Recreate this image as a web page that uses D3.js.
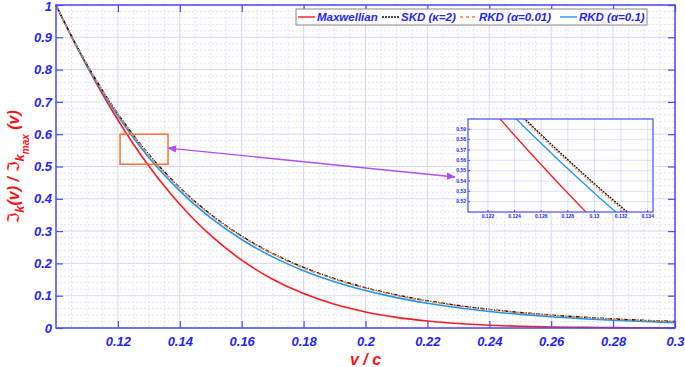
<!DOCTYPE html>
<html><head><meta charset="utf-8">
<script src="https://cdn.jsdelivr.net/npm/d3@7/dist/d3.min.js"></script>
<style>body{margin:0;background:#fff}svg{display:block}</style>
</head><body><svg id="c" width="685" height="367"></svg>
<script>
const v = [0.10,0.105,0.11,0.115,0.12,0.125,0.13,0.135,0.14,0.145,0.15,0.16,0.17,0.18,0.19,0.20,0.21,0.22,0.23,0.24,0.25,0.26,0.27,0.28,0.29,0.30];
const maxwellian = [1,0.9026,0.8106,0.7243,0.6440,0.5698,0.5016,0.4393,0.3829,0.3320,0.2865,0.2101,0.1511,0.1065,0.0735,0.0498,0.0330,0.0215,0.0137,0.0086,0.0052,0.0032,0.0019,0.0011,0.0006,0.0003];
const skd = [1,0.9041,0.8163,0.7361,0.6633,0.5972,0.5374,0.4834,0.4348,0.3910,0.3517,0.2848,0.2309,0.1877,0.1529,0.1250,0.1025,0.0844,0.0697,0.0578,0.0481,0.0402,0.0337,0.0283,0.0239,0.0203];
const rkd001 = [1,0.9036,0.8154,0.7350,0.6618,0.5955,0.5356,0.4814,0.4327,0.3889,0.3495,0.2826,0.2287,0.1856,0.1509,0.1231,0.1008,0.0828,0.0682,0.0564,0.0469,0.0391,0.0327,0.0273,0.0230,0.0195];
const rkd01 = [1,0.9018,0.8120,0.7302,0.6560,0.5888,0.5282,0.4736,0.4245,0.3804,0.3409,0.2739,0.2202,0.1775,0.1432,0.1160,0.0941,0.0767,0.0626,0.0513,0.0422,0.0348,0.0288,0.0239,0.0199,0.0166];
const seriesNames = ["Maxwellian","SKD (κ=2)","RKD (α=0.01)","RKD (α=0.1)"];
const xTicks = [0.12,0.14,0.16,0.18,0.2,0.22,0.24,0.26,0.28,0.3];
const yTicks = [0,0.1,0.2,0.3,0.4,0.5,0.6,0.7,0.8,0.9,1];
const insetXTicks = [0.122,0.124,0.126,0.128,0.13,0.132,0.134];
const insetYTicks = [0.52,0.53,0.54,0.55,0.56,0.57,0.58,0.59];
const zoomBox = {x0:0.1207, x1:0.1362, y0:0.507, y1:0.60};
const arrowPts = [[0.1362,0.557],[0.2289,0.4675]];

const BLUE = "#2424ff", FRAME = "#4a4aff";
const styles = [
  {color:"#ff1a1a", w:1.6, dash:null},
  {color:"#111", w:1.4, dash:"4,1.5,1,1.5"},
  {color:"#f08040", w:1.4, dash:"4,3"},
  {color:"#1e96f0", w:1.6, dash:null}
];
const data = [maxwellian, skd, rkd001, rkd01];
const drawOrder = [0,3,1,2];

const svg = d3.select("#c");
const L=56, R=675, T=5, B=328;
const x = d3.scaleLinear().domain([0.1,0.3]).range([L,R]);
const y = d3.scaleLinear().domain([0,1]).range([B,T]);

// grid
const g = svg.append("g");
g.append("rect").attr("x",L).attr("y",T).attr("width",R-L).attr("height",B-T).attr("fill","#fff");
d3.range(0.105,0.3,0.005).forEach(t=>{ if (Math.abs(Math.round(t/0.02)*0.02-t)>1e-6)
  g.append("line").attr("x1",x(t)).attr("x2",x(t)).attr("y1",T).attr("y2",B).attr("stroke","#dedef6").attr("stroke-dasharray","2,2").attr("stroke-width",0.8);});
d3.range(0.02,1,0.02).forEach(t=>{ if (Math.abs(Math.round(t*10)/10-t)>1e-6)
  g.append("line").attr("x1",L).attr("x2",R).attr("y1",y(t)).attr("y2",y(t)).attr("stroke","#dedef6").attr("stroke-dasharray","2,2").attr("stroke-width",0.8);});
xTicks.forEach(t=>g.append("line").attr("x1",x(t)).attr("x2",x(t)).attr("y1",T).attr("y2",B).attr("stroke","#d8d8f6"));
yTicks.forEach(t=>g.append("line").attr("x1",L).attr("x2",R).attr("y1",y(t)).attr("y2",y(t)).attr("stroke","#d8d8f6"));

// curves
const line = (sx,sy)=>d3.line().x((d,i)=>sx(v[i])).y(d=>sy(d)).curve(d3.curveMonotoneX);
const cg = svg.append("g");
drawOrder.forEach(k=>{
  cg.append("path").attr("d",line(x,y)(data[k])).attr("fill","none")
    .attr("stroke",styles[k].color).attr("stroke-width",styles[k].w)
    .attr("stroke-dasharray",styles[k].dash);
});

// axes
const font = "'Liberation Sans', Arial, sans-serif";
function styleAxis(sel){ sel.select(".domain").remove(); sel.selectAll("line").attr("stroke",FRAME).attr("stroke-width",1.2);
  sel.selectAll("text").attr("fill",BLUE).attr("font-family",font).attr("font-size",13).attr("font-weight","bold").attr("font-style","italic"); }
svg.append("g").attr("transform",`translate(0,${B})`).call(d3.axisBottom(x).tickValues(xTicks).tickFormat(d3.format("~g")).tickSizeInner(-7).tickSizeOuter(0).tickPadding(9)).call(styleAxis);
svg.append("g").attr("transform",`translate(0,${T})`).call(d3.axisTop(x).tickValues(xTicks).tickFormat("").tickSizeInner(-7).tickSizeOuter(0)).call(styleAxis);
const yAx = svg.append("g").attr("transform",`translate(${L},0)`).call(d3.axisLeft(y).tickValues(yTicks).tickFormat(d3.format("~g")).tickSizeInner(-7).tickSizeOuter(0).tickPadding(4)).call(styleAxis);
yAx.selectAll(".tick").filter(d=>d===1).select("text").attr("dy","0.4em");
svg.append("g").attr("transform",`translate(${R},0)`).call(d3.axisRight(y).tickValues(yTicks).tickFormat("").tickSizeInner(-7).tickSizeOuter(0)).call(styleAxis);
svg.append("rect").attr("x",L).attr("y",T).attr("width",R-L).attr("height",B-T).attr("fill","none").attr("stroke",FRAME).attr("stroke-width",1.5);

// axis labels
svg.append("text").attr("x",(L+R)/2).attr("y",365).attr("text-anchor","middle").attr("fill","#ff1010")
  .attr("font-family",font).attr("font-size",16).attr("font-weight","bold").attr("font-style","italic").text("v / c");
const yl = svg.append("text").attr("transform","translate(19,167) rotate(-90)").attr("text-anchor","middle").attr("fill","#ff1010")
  .attr("font-family",font).attr("font-size",16).attr("font-weight","bold").attr("font-style","italic");
yl.append("tspan").attr("font-weight","normal").attr("font-family","'DejaVu Sans', sans-serif").attr("font-style","normal").text("ℑ");
yl.append("tspan").attr("dy",5).attr("font-size",13).text("k");
yl.append("tspan").attr("dy",-5).text("(v) / ");
yl.append("tspan").attr("font-weight","normal").attr("font-family","'DejaVu Sans', sans-serif").attr("font-style","normal").text("ℑ");
yl.append("tspan").attr("dy",5).attr("font-size",13).text("k");
yl.append("tspan").attr("dy",5).attr("font-size",10).text("max");
yl.append("tspan").attr("dy",-10).text(" (v)");

// zoom box and arrow
svg.append("rect").attr("x",x(zoomBox.x0)).attr("y",y(zoomBox.y1)).attr("width",x(zoomBox.x1)-x(zoomBox.x0)).attr("height",y(zoomBox.y0)-y(zoomBox.y1))
  .attr("fill","none").attr("stroke","#ff7030").attr("stroke-width",1.5);
const defs = svg.append("defs");
defs.append("marker").attr("id","ah").attr("viewBox","0 0 10 10").attr("refX",9).attr("refY",5).attr("markerWidth",7).attr("markerHeight",7).attr("orient","auto-start-reverse")
  .append("path").attr("d","M0,1 L10,5 L0,9 z").attr("fill","#b050f0");
svg.append("line").attr("x1",x(arrowPts[0][0])).attr("y1",y(arrowPts[0][1])).attr("x2",x(arrowPts[1][0])).attr("y2",y(arrowPts[1][1]))
  .attr("stroke","#b050f0").attr("stroke-width",1.3).attr("marker-start","url(#ah)").attr("marker-end","url(#ah)");

// inset
const iL=468, iR=653, iT=119, iB=212;
const ix = d3.scaleLinear().domain([0.1205,0.1344]).range([iL,iR]);
const iy = d3.scaleLinear().domain([0.51,0.60]).range([iB,iT]);
const ig = svg.append("g");
ig.append("rect").attr("x",iL).attr("y",iT).attr("width",iR-iL).attr("height",iB-iT).attr("fill","#fff");
insetXTicks.forEach(t=>ig.append("line").attr("x1",ix(t)).attr("x2",ix(t)).attr("y1",iT).attr("y2",iB).attr("stroke","#d8d8f6").attr("stroke-width",0.8));
insetYTicks.forEach(t=>ig.append("line").attr("x1",iL).attr("x2",iR).attr("y1",iy(t)).attr("y2",iy(t)).attr("stroke","#d8d8f6").attr("stroke-width",0.8));
defs.append("clipPath").attr("id","ic").append("rect").attr("x",iL).attr("y",iT).attr("width",iR-iL).attr("height",iB-iT);
const icg = ig.append("g").attr("clip-path","url(#ic)");
drawOrder.forEach(k=>{
  icg.append("path").attr("d",line(ix,iy)(data[k])).attr("fill","none")
    .attr("stroke",styles[k].color).attr("stroke-width",1.3)
    .attr("stroke-dasharray",k===1?"2,1":(k===2?"2,2":null));
});
insetXTicks.forEach(t=>{
  ig.append("line").attr("x1",ix(t)).attr("x2",ix(t)).attr("y1",iB).attr("y2",iB-2).attr("stroke",FRAME);
  ig.append("text").attr("x",ix(t)).attr("y",iB+6).attr("text-anchor","middle").attr("fill",BLUE).attr("font-family",font).attr("font-size",5).attr("font-weight","bold").text(d3.format("~g")(t));
});
insetYTicks.forEach(t=>{
  ig.append("line").attr("x1",iL).attr("x2",iL+2).attr("y1",iy(t)).attr("y2",iy(t)).attr("stroke",FRAME);
  ig.append("text").attr("x",iL-2).attr("y",iy(t)+1.7).attr("text-anchor","end").attr("fill",BLUE).attr("font-family",font).attr("font-size",5).attr("font-weight","bold").text(t.toFixed(2));
});
ig.append("rect").attr("x",iL).attr("y",iT).attr("width",iR-iL).attr("height",iB-iT).attr("fill","none").attr("stroke",FRAME).attr("stroke-width",1.2);

// legend
const lg = svg.append("g");
lg.append("rect").attr("x",296).attr("y",9).attr("width",351).attr("height",16).attr("fill","#fff").attr("stroke","#888").attr("stroke-width",1);
const legX = [298,382,460,560];
seriesNames.forEach((n,k)=>{
  lg.append("line").attr("x1",legX[k]).attr("x2",legX[k]+17).attr("y1",17).attr("y2",17)
    .attr("stroke",styles[k].color).attr("stroke-width",1.4).attr("stroke-dasharray",k===1?"2,1":(k===2?"3,3":null));
  lg.append("text").attr("x",legX[k]+19).attr("y",21).attr("fill",BLUE).attr("font-family",font).attr("font-size",11.5)
    .attr("font-weight","bold").attr("font-style","italic").text(n);
});
</script></body></html>
